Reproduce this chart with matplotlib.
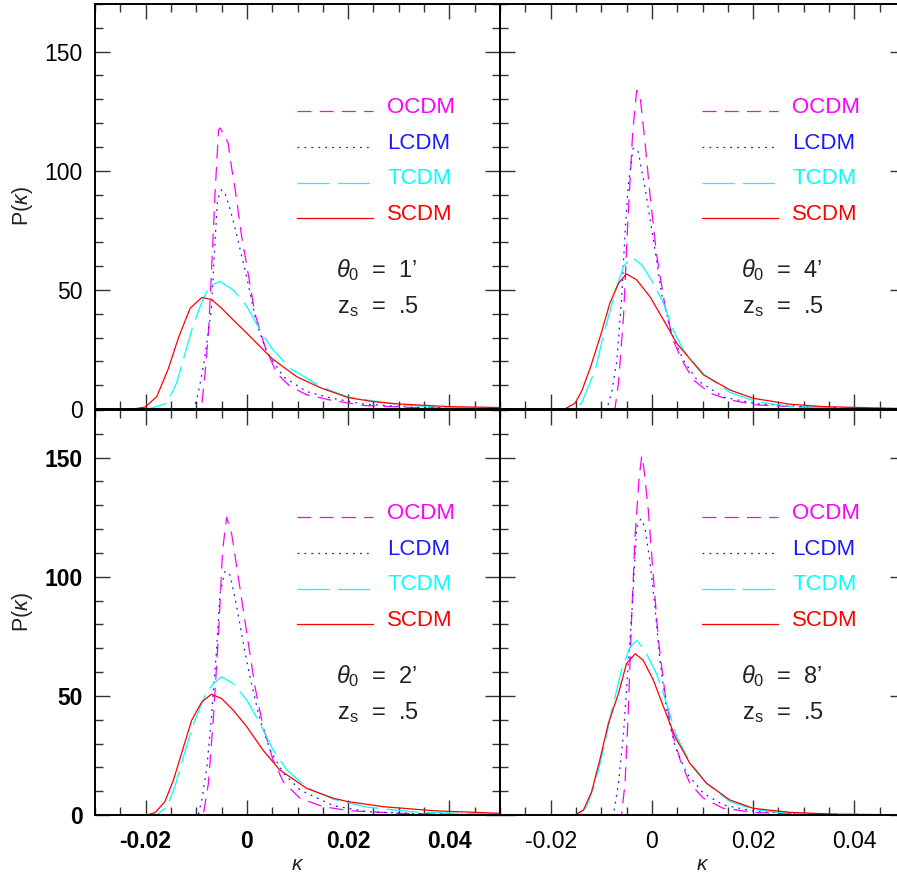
import matplotlib
matplotlib.use("Agg")
import matplotlib.pyplot as plt
from matplotlib.ticker import MultipleLocator

plt.rcParams["font.family"] = ["Liberation Sans", "DejaVu Sans"]
plt.rcParams["mathtext.fontset"] = "custom"
plt.rcParams["mathtext.rm"] = "Liberation Sans"
plt.rcParams["mathtext.it"] = "Liberation Sans:italic"
plt.rcParams["lines.scale_dashes"] = False

# ---- data: kappa and P(kappa) for each panel ----
# panel theta_0 = 1'
k1_scdm = [-0.03, -0.0225, -0.0201, -0.0178, -0.0155, -0.0135, -0.0112, -0.0089, -0.0070, -0.0050, -0.0027,
           0.0, 0.0049, 0.0098, 0.0148, 0.0200, 0.0249, 0.030, 0.040, 0.05]
p1_scdm = [0, 0, 0.8, 5.2, 17, 30, 42.3, 46.8, 46, 42.3, 37.4, 31.8, 21.3, 13.6, 8.7, 4.8, 3.1, 2.1, 1.0, 0.6]
k1_tcdm = [-0.03, -0.0195, -0.0158, -0.0139, -0.0122, -0.0106, -0.0086, -0.0073, -0.0053, -0.0027, 0.0,
           0.0026, 0.0049, 0.0085, 0.0148, 0.020, 0.030, 0.040, 0.05]
p1_tcdm = [0, 0, 2.4, 10.8, 23.4, 35.3, 46.5, 51.7, 53.5, 50, 43, 33.2, 25.5, 17.1, 9.2, 5.0, 1.8, 0.6, 0.3]
k1_lcdm = [-0.03, -0.0105, -0.0099, -0.0093, -0.0086, -0.0079, -0.0070, -0.0063, -0.0058, -0.0050, -0.0044,
           -0.0036, -0.0027, -0.0020, -0.0010, 0.0, 0.0019, 0.0039, 0.0072, 0.0118, 0.0168, 0.023, 0.0327,
           0.042, 0.05]
p1_lcdm = [0, 0, 4, 10, 18, 28, 42, 70, 88, 92, 91, 86, 79, 73, 64, 55, 36, 24, 13.6, 7.3, 4.5, 2.1, 0.7,
           0.3, 0.2]
k1_ocdm = [-0.03, -0.0095, -0.0089, -0.0083, -0.0076, -0.0070, -0.0063, -0.0056, -0.0053, -0.0045, -0.0037,
           -0.0030, -0.0023, -0.0010, 0.0, 0.0016, 0.0036, 0.0059, 0.0085, 0.0118, 0.0168, 0.023, 0.0327,
           0.042, 0.05]
p1_ocdm = [0, 0, 2, 14, 32, 57, 90, 117, 118, 115, 111.6, 101, 92, 72, 60, 40, 26, 15, 9.5, 6, 3.6, 1.5,
           0.6, 0.3, 0.2]

# panel theta_0 = 4'
k4_scdm = [-0.03, -0.0172, -0.0152, -0.0139, -0.0122, -0.0102, -0.0083, -0.0066, -0.005, -0.003, -0.0004,
           0.0023, 0.0049, 0.0102, 0.0154, 0.020, 0.0273, 0.0339, 0.047, 0.05]
p4_scdm = [0, 0, 2.4, 7.3, 17.1, 30.4, 44.4, 52.8, 56.7, 54.2, 47.2, 37.4, 27.6, 14.3, 8, 4.5, 2, 1.0, 0.3,
           0.2]
k4_tcdm = [-0.03, -0.0155, -0.0139, -0.0112, -0.0093, -0.0073, -0.0056, -0.004, -0.002, 0.0003, 0.0023,
           0.0042, 0.0062, 0.0102, 0.0154, 0.0207, 0.0273, 0.037, 0.05]
p4_tcdm = [0, 0, 2.4, 16.4, 33.2, 48.6, 59.8, 63.7, 60.5, 52.8, 44.4, 33.2, 24.8, 14.6, 7.0, 3.0, 1.1, 0.3,
           0.1]
k4_lcdm = [-0.03, -0.0089, -0.0079, -0.0069, -0.006, -0.0053, -0.0047, -0.0037, -0.0027, -0.0014, 0.0003,
           0.0019, 0.0039, 0.0062, 0.0089, 0.0141, 0.0207, 0.0305, 0.040, 0.05]
p4_lcdm = [0, 0, 7.3, 20.6, 45.8, 73.8, 93.4, 109.5, 108, 93.4, 71, 48.6, 31.8, 20.6, 12.2, 5, 2.2, 1.0,
           0.3, 0.2]
k4_ocdm = [-0.03, -0.0073, -0.0066, -0.0056, -0.0047, -0.0038, -0.003, -0.0024, -0.0014, -0.0004, 0.0009,
           0.0026, 0.0042, 0.0059, 0.0082, 0.0115, 0.0154, 0.0207, 0.0305, 0.040, 0.05]
p4_ocdm = [0, 0, 10.8, 38.8, 80.8, 115.8, 133.7, 132.6, 113, 90.6, 65.4, 43, 29, 20.6, 12.2, 6.6, 3.8, 1.7,
           0.7, 0.2, 0.1]

# panel theta_0 = 2'
k2_scdm = [-0.03, -0.0198, -0.0181, -0.0162, -0.0145, -0.0129, -0.0109, -0.0089, -0.007, -0.005, -0.0027,
           0.0, 0.0032, 0.0065, 0.0118, 0.0171, 0.020, 0.0269, 0.0368, 0.05]
p2_scdm = [0, 0, 1.0, 5.6, 14.7, 25.9, 39.8, 47.5, 50.7, 48.9, 44, 37, 27.2, 18.9, 11.2, 7, 5.6, 3.5, 1.8,
           0.7]
k2_tcdm = [-0.03, -0.0178, -0.0158, -0.0142, -0.0126, -0.0106, -0.0083, -0.0066, -0.005, -0.0027, 0.0,
           0.0026, 0.0052, 0.0079, 0.0118, 0.0171, 0.0237, 0.0335, 0.05]
p2_tcdm = [0, 0, 3.5, 12, 24, 38, 50, 55.2, 58, 55.2, 48.2, 38.4, 27.2, 18.9, 11.5, 6.6, 3.3, 1.2, 0.3]
k2_lcdm = [-0.03, -0.0096, -0.0089, -0.0079, -0.007, -0.006, -0.0053, -0.0043, -0.0033, -0.002, -0.0007,
           0.0006, 0.0026, 0.0046, 0.0072, 0.0105, 0.0171, 0.0237, 0.0335, 0.047, 0.05]
p2_lcdm = [0, 0, 6.3, 20.2, 41.1, 69.1, 92.9, 102.4, 100.6, 87.4, 72, 58, 39.8, 27.2, 17.6, 10.5, 3.9, 1.4,
           0.6, 0.2, 0.2]
k2_ocdm = [-0.03, -0.0086, -0.0076, -0.0066, -0.0056, -0.0048, -0.004, -0.003, -0.0017, 0.0, 0.0016,
           0.0032, 0.0052, 0.0072, 0.0105, 0.015, 0.0203, 0.0302, 0.043, 0.05]
p2_ocdm = [0, 0, 13.3, 41.1, 76.1, 111, 125, 118, 99.9, 76.1, 53.8, 37, 23, 13.9, 7, 3.5, 1.8, 0.7, 0.2,
           0.1]

# panel theta_0 = 8'
k8_scdm = [-0.03, -0.0152, -0.0135, -0.0119, -0.0103, -0.0086, -0.0066, -0.005, -0.0033, -0.0017, 0.0003,
           0.0023, 0.0046, 0.0075, 0.0108, 0.0154, 0.020, 0.0273, 0.037, 0.05]
p8_scdm = [0, 0, 2.1, 9.8, 23, 38.4, 51, 63.6, 67.7, 64.9, 56.6, 45.4, 32.8, 21.7, 13.3, 6.3, 2.8, 1.1, 0.3,
           0.1]
k8_tcdm = [-0.03, -0.0145, -0.0129, -0.0112, -0.0096, -0.0079, -0.006, -0.0043, -0.003, -0.0014, 0.0009,
           0.0029, 0.0049, 0.0075, 0.0108, 0.0154, 0.0207, 0.0273, 0.037, 0.05]
p8_tcdm = [0, 0, 3.5, 13.3, 27.2, 44, 60.8, 70.5, 73.3, 69.1, 59.4, 46.8, 32.8, 22.3, 13.3, 5.6, 2.1, 0.7,
           0.2, 0.1]
k8_lcdm = [-0.03, -0.0076, -0.0066, -0.0056, -0.0047, -0.0038, -0.003, -0.0022, -0.0014, -0.0004, 0.0006,
           0.0016, 0.0029, 0.0046, 0.0069, 0.0102, 0.0141, 0.0207, 0.0305, 0.05]
p8_lcdm = [0, 0, 13.3, 34.2, 62.1, 90.1, 120.8, 124.3, 120.8, 106.8, 87.3, 64.9, 44, 28.6, 17.5, 9.1, 4.2,
           1.4, 0.4, 0.1]
k8_ocdm = [-0.03, -0.006, -0.0053, -0.0047, -0.004, -0.0033, -0.0025, -0.002, -0.0016, -0.0007, 0.0003,
           0.0013, 0.0026, 0.0039, 0.0056, 0.0075, 0.0102, 0.0141, 0.0207, 0.0305, 0.05]
p8_ocdm = [0, 0, 13.3, 41.2, 83.1, 118, 141.8, 150.8, 146, 127.8, 99.9, 73.3, 51, 35.6, 23, 13.3, 7, 2.8,
           1.0, 0.3, 0.1]

models = ["OCDM", "LCDM", "TCDM", "SCDM"]
colors = {"OCDM": "#ff00ff", "LCDM": "#1a1aff", "TCDM": "#00ffff", "SCDM": "#ff0000"}
styles = {"OCDM": (0, (10, 6)), "LCDM": (0, (1.3, 3.7)), "TCDM": (0, (23, 6)), "SCDM": "-"}

panels = [
    ("1", {"OCDM": (k1_ocdm, p1_ocdm), "LCDM": (k1_lcdm, p1_lcdm),
           "TCDM": (k1_tcdm, p1_tcdm), "SCDM": (k1_scdm, p1_scdm)}),
    ("4", {"OCDM": (k4_ocdm, p4_ocdm), "LCDM": (k4_lcdm, p4_lcdm),
           "TCDM": (k4_tcdm, p4_tcdm), "SCDM": (k4_scdm, p4_scdm)}),
    ("2", {"OCDM": (k2_ocdm, p2_ocdm), "LCDM": (k2_lcdm, p2_lcdm),
           "TCDM": (k2_tcdm, p2_tcdm), "SCDM": (k2_scdm, p2_scdm)}),
    ("8", {"OCDM": (k8_ocdm, p8_ocdm), "LCDM": (k8_lcdm, p8_lcdm),
           "TCDM": (k8_tcdm, p8_tcdm), "SCDM": (k8_scdm, p8_scdm)}),
]

W, H = 897, 873
fig = plt.figure(figsize=(W / 100, H / 100), dpi=100)

# axes boxes in pixels: left, top
boxes = [(95, 4), (500, 4), (95, 410), (500, 410)]
pw, ph = 405, 405

for i, ((theta, series), (x0, y0)) in enumerate(zip(panels, boxes)):
    ax = fig.add_axes([x0 / W, (H - y0 - ph) / H, pw / W, ph / H])
    for m in models:
        k, p = series[m]
        ax.plot(k, p, color=colors[m], linestyle=styles[m], lw=0.9)

    ax.set_xlim(-0.03, 0.05)
    ax.set_ylim(0, 170)
    ax.xaxis.set_major_locator(MultipleLocator(0.02))
    ax.xaxis.set_minor_locator(MultipleLocator(0.005))
    ax.yaxis.set_major_locator(MultipleLocator(50))
    ax.yaxis.set_minor_locator(MultipleLocator(10))
    ax.tick_params(which="both", direction="in", top=True, right=True, color="#333333")
    ax.tick_params(which="major", length=10.5, width=1.0, labelsize=16.5, pad=9)
    ax.tick_params(which="minor", length=5.5, width=1.0)
    for s in ax.spines.values():
        s.set_linewidth(1.4)
        s.set_color("black")

    col, row = i % 2, i // 2
    ax.tick_params(labelbottom=(row == 1), labelleft=(col == 0))
    ax.xaxis.set_major_formatter(plt.FuncFormatter(lambda v, _: "0" if abs(v) < 1e-9 else f"{v:g}"))
    ax.yaxis.set_major_formatter(plt.FuncFormatter(lambda v, _: f"{v:g}"))
    if row == 1:
        ax.tick_params(axis="x", pad=11)
    bold_y = (row == 1)
    bold_x = (col == 0)
    for lab in ax.get_yticklabels():
        lab.set_fontweight("bold" if bold_y else "normal")
    for lab in ax.get_xticklabels():
        lab.set_fontweight("bold" if bold_x else "normal")

    if col == 0:
        ax.set_ylabel(r"P($\kappa$)", fontsize=15.5, color="#222222")
        ax.yaxis.label.set_va("center")
        ax.yaxis.set_label_coords(-72 / pw, 0.5)
    if row == 1:
        ax.set_xlabel(r"$\kappa$", fontsize=15, color="#222222")
        ax.xaxis.label.set_va("center")
        ax.xaxis.set_label_coords(0.5, -50 / ph)

    # legend drawn as line samples plus labels
    for j, m in enumerate(models):
        yy = 0.735 - j * 0.088
        ax.plot([0.499, 0.686], [yy, yy], transform=ax.transAxes, color=colors[m],
                linestyle=styles[m], lw=0.9)
        ax.text(0.721, yy - 0.004, m, transform=ax.transAxes, color=colors[m], fontsize=16,
                va="baseline", ha="left")

    ax.text(0.595, 0.343, r"$\theta_{\rm 0}$  =  " + theta + "\u2019", transform=ax.transAxes,
            fontsize=17, color="#222222", va="center", ha="left")
    ax.text(0.598, 0.252, r"z$_{\rm s}$  =  .5", transform=ax.transAxes,
            fontsize=17, color="#222222", va="center", ha="left")

fig.savefig("out.png", dpi=100)
